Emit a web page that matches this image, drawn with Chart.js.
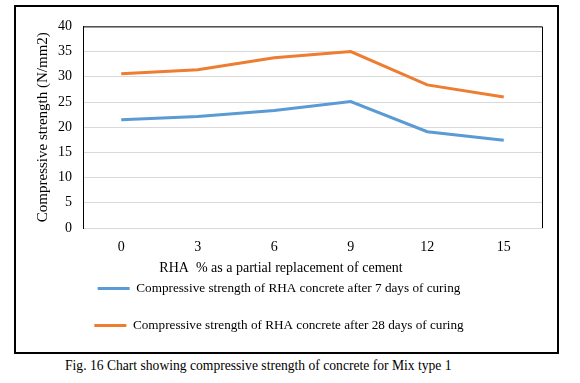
<!DOCTYPE html>
<html>
<head>
<meta charset="utf-8">
<script src="https://cdn.jsdelivr.net/npm/chart.js@4/dist/chart.umd.min.js"></script>
<style>
  html, body { margin: 0; padding: 0; background: #fff; }
  body { width: 580px; height: 383px; position: relative; overflow: hidden; }
  #box { position: absolute; left: 14px; top: 5px; width: 541px; height: 345px; border: 2px solid #000; }
  #box canvas { display: block; }
  #caption { position: absolute; left: 65px; top: 358px; font-family: "Liberation Serif", serif; font-size: 13.6px; line-height: 16px; color: #000; white-space: nowrap; }
</style>
</head>
<body>
<div id="box"><canvas id="c" width="541" height="345"></canvas></div>
<div id="caption">Fig. 16 Chart showing compressive strength of concrete for Mix type 1</div>
<script>
const categories = ['0', '3', '6', '9', '12', '15'];
const strength7 = [21.5, 22.1, 23.3, 25.1, 19.1, 17.4];
const strength28 = [30.6, 31.4, 33.8, 35.0, 28.4, 26.0];
const seriesNames = [
  'Compressive strength of RHA concrete after 7 days of curing',
  'Compressive strength of RHA concrete after 28 days of curing'
];
const yTicks = [0, 5, 10, 15, 20, 25, 30, 35, 40];
const xTitle = 'RHA  % as a partial replacement of cement';
const yTitle = 'Compressive strength (N/mm2)';

const FONT = '"Liberation Serif", "Times New Roman", serif';
const BLUE = '#5B9BD5';
const ORANGE = '#ED7D31';

const frame = {
  id: 'frame',
  afterDatasetsDraw(chart) {
    const {ctx, chartArea: a} = chart;
    ctx.save();
    ctx.strokeStyle = '#000';
    ctx.lineWidth = 1;
    ctx.beginPath();
    ctx.moveTo(a.left, a.top + 0.5);
    ctx.lineTo(a.right + 0.5, a.top + 0.5);
    ctx.lineTo(a.right + 0.5, a.bottom);
    ctx.stroke();
    ctx.restore();
  }
};

new Chart(document.getElementById('c'), {
  type: 'line',
  data: {
    labels: categories,
    datasets: [
      { label: seriesNames[0], data: strength7, borderColor: BLUE, backgroundColor: BLUE, borderWidth: 3, pointRadius: 0, tension: 0 },
      { label: seriesNames[1], data: strength28, borderColor: ORANGE, backgroundColor: ORANGE, borderWidth: 3, pointRadius: 0, tension: 0 }
    ]
  },
  options: {
    responsive: false,
    animation: false,
    events: [],
    layout: { padding: { left: 0, right: 15, top: 14, bottom: 10 } },
    plugins: {
      tooltip: { enabled: false },
      legend: {
        position: 'bottom',
        labels: {
          usePointStyle: true,
          pointStyle: 'line',
          pointStyleWidth: 32,
          padding: 23.8,
          color: '#000',
          font: { family: FONT, size: 13.2 }
        }
      }
    },
    scales: {
      x: {
        offset: true,
        grid: { display: false, drawTicks: false },
        border: { color: '#D9D9D9', width: 1 },
        ticks: { color: '#000', padding: 11, font: { family: FONT, size: 14 } },
        title: { display: true, text: xTitle + ' '.repeat(18), color: '#000', font: { family: FONT, size: 14 }, padding: { top: 0, bottom: -18.4 } },
        afterFit(s) { s.height = 30; }
      },
      y: {
        min: 0, max: 40,
        afterBuildTicks(s) { s.ticks = yTicks.map(v => ({ value: v })); },
        grid: { color: '#D9D9D9', lineWidth: 1, drawTicks: false },
        border: { color: '#000', width: 1 },
        ticks: { color: '#000', padding: 11, font: { family: FONT, size: 14 } },
        title: { display: true, text: yTitle, color: '#000', font: { family: FONT, size: 15 }, padding: { top: 18, bottom: 0 } },
        afterFit(s) { s.width = 67; }
      }
    }
  },
  plugins: [frame]
});
</script>
</body>
</html>
